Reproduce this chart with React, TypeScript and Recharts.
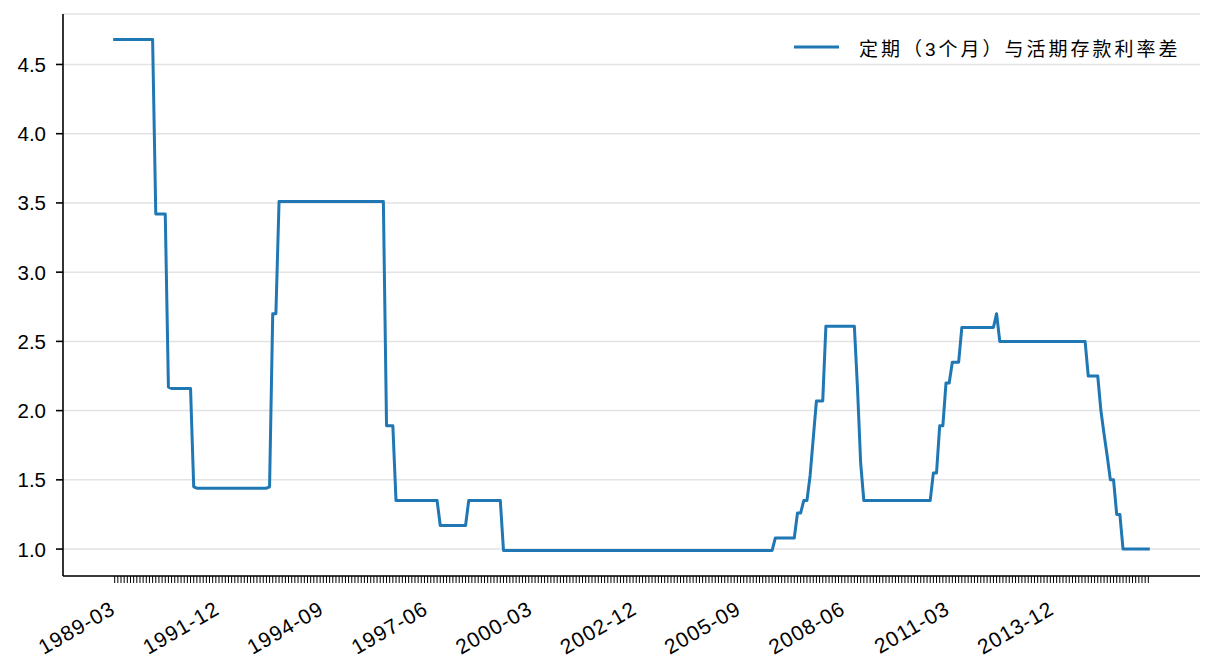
import React from 'react';
import { LineChart, Line, XAxis, YAxis, CartesianGrid } from 'recharts';

// Monthly series starting 1989-03: spread (3-month time deposit rate minus demand deposit rate)
const startYear = 1989;
const startMonth = 3;
// value of each flat stretch and the number of months it lasts
const runValues = [4.68, 3.42, 2.17, 2.16, 1.45, 1.44, 1.45, 2.70, 3.51, 1.89, 1.35, 1.17, 1.35, 0.99, 1.08, 1.26, 1.35, 1.53, 1.80, 2.07, 2.61, 2.16, 1.62, 1.35, 1.55, 1.89, 2.20, 2.35, 2.60, 2.70, 2.50, 2.25, 2.00, 1.83, 1.67, 1.50, 1.25, 1.00];
const runLengths = [13, 4, 1, 7, 1, 23, 1, 2, 34, 3, 14, 9, 11, 86, 7, 2, 2, 1, 1, 3, 10, 1, 1, 22, 2, 2, 2, 3, 11, 1, 28, 4, 1, 1, 1, 2, 2, 9];

const tickLabels = ['1989-03', '1991-12', '1994-09', '1997-06', '2000-03', '2002-12', '2005-09', '2008-06', '2011-03', '2013-12'];
const labelEvery = 33;
const yTicks = [1.0, 1.5, 2.0, 2.5, 3.0, 3.5, 4.0, 4.5];
const seriesName = '定期（3个月）与活期存款利率差';

const data: { idx: number; month: string; value: number }[] = [];
runValues.forEach((v, r) => {
  for (let k = 0; k < runLengths[r]; k++) {
    const i = data.length;
    const m0 = startMonth - 1 + i;
    const y = startYear + Math.floor(m0 / 12);
    const m = (m0 % 12) + 1;
    data.push({ idx: i, month: `${y}-${m < 10 ? '0' + m : m}`, value: v });
  }
});

const n = data.length;
const xPad = (n - 1) * 0.05;
const yMin = Math.min(...runValues);
const yMax = Math.max(...runValues);
const yPad = (yMax - yMin) * 0.05;
const allTicks = data.map((d) => d.idx);

const FONT = "'Liberation Sans', Arial, sans-serif";

const XTick = (props: any) => {
  const { x, y, payload } = props;
  const i = payload.value;
  if (i % labelEvery !== 0) return <g />;
  const label = tickLabels[i / labelEvery];
  if (!label) return <g />;
  const ex = x + 2;
  const ey = y + 28;
  return (
    <text
      x={ex}
      y={ey}
      textAnchor="end"
      fontSize={21}
      letterSpacing={1}
      fontFamily={FONT}
      fill="#000"
      transform={`rotate(-30 ${ex} ${ey})`}
    >
      {label}
    </text>
  );
};

const YTick = (props: any) => {
  const { y, payload } = props;
  return (
    <text x={46} y={y + 7.5} textAnchor="end" fontSize={20.5} fontFamily={FONT} fill="#000">
      {Number(payload.value).toFixed(1)}
    </text>
  );
};

export default function App() {
  return (
    <div style={{ position: 'absolute', left: 0, top: 0, width: 1216, height: 672, background: '#fff' }}>
      <LineChart width={1216} height={672} data={data} margin={{ top: 14, right: 16, left: 3, bottom: 6 }}>
        <CartesianGrid vertical={false} stroke="#e3e3e3" strokeWidth={1.5} />
        <XAxis
          dataKey="idx"
          type="number"
          domain={[-xPad, n - 1 + xPad]}
          ticks={allTicks}
          interval={0}
          allowDataOverflow
          height={90}
          tickSize={7}
          tickLine={{ stroke: '#000', strokeWidth: 1 }}
          axisLine={{ stroke: '#000', strokeWidth: 1.6 }}
          tick={<XTick />}
        />
        <YAxis
          type="number"
          domain={[yMin - yPad, yMax + yPad]}
          ticks={yTicks}
          interval={0}
          allowDataOverflow
          width={60}
          tickSize={7}
          tickLine={{ stroke: '#000', strokeWidth: 1.6 }}
          axisLine={{ stroke: '#000', strokeWidth: 1.6 }}
          tick={<YTick />}
        />
        <Line
          type="linear"
          dataKey="value"
          name={seriesName}
          stroke="#1f77b4"
          strokeWidth={3}
          strokeLinecap="square"
          strokeLinejoin="round"
          dot={false}
          activeDot={false}
          isAnimationActive={false}
        />
      </LineChart>
      <div
        style={{
          position: 'absolute',
          left: 793,
          top: 33,
          height: 28,
          display: 'flex',
          alignItems: 'center',
          whiteSpace: 'nowrap',
        }}
      >
        <svg width={48} height={28} style={{ display: 'block' }}>
          <line x1={1} y1={14} x2={46} y2={14} stroke="#1f77b4" strokeWidth={3} />
        </svg>
        <span
          style={{
            marginLeft: 18,
            fontSize: 19,
            letterSpacing: 3,
            fontFamily: "'Liberation Sans', 'Noto Sans CJK SC', sans-serif",
            color: '#000',
          }}
        >
          {seriesName}
        </span>
      </div>
    </div>
  );
}
